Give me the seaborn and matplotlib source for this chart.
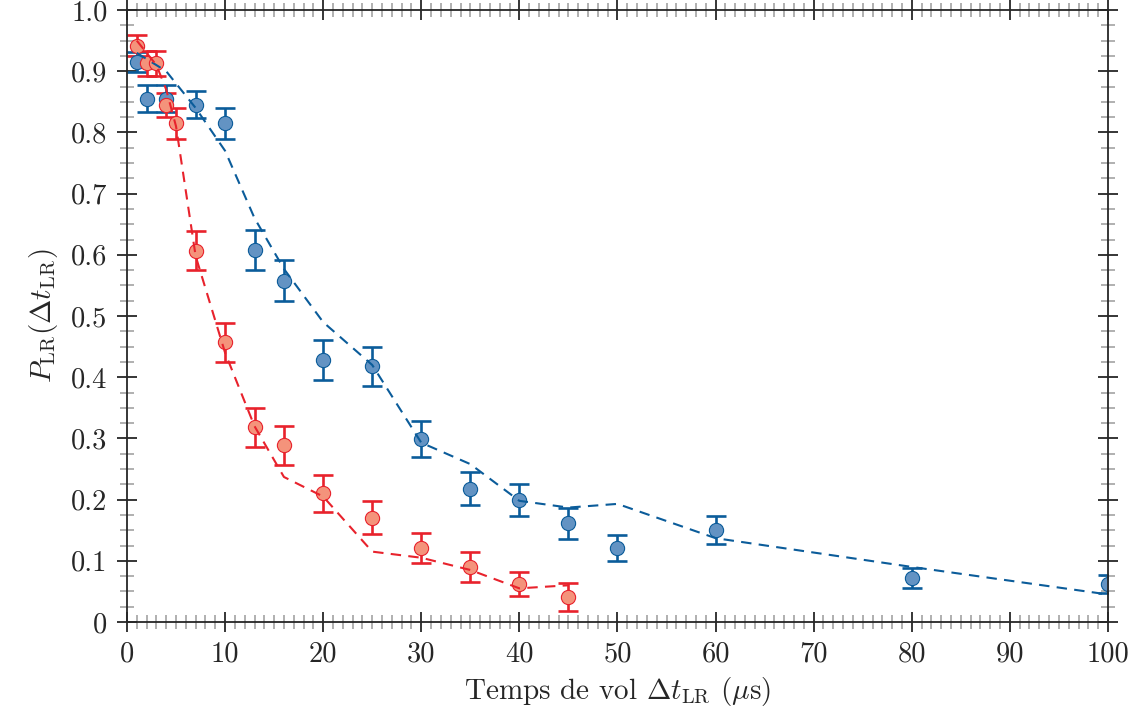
import numpy as np
import pandas as pd
import seaborn as sns
import matplotlib.pyplot as plt
from matplotlib.ticker import MultipleLocator, FixedLocator, FixedFormatter

# mesures (points + barres d'erreur)
x_bleu = [1, 2, 4, 7, 10, 13, 16, 20, 25, 30, 35, 40, 45, 50, 60, 80, 100]
p_bleu = [0.915, 0.855, 0.855, 0.845, 0.815, 0.608, 0.558, 0.428, 0.418, 0.299, 0.218, 0.199, 0.161, 0.121, 0.150, 0.072, 0.062]
err_bleu = [0.017, 0.022, 0.022, 0.022, 0.025, 0.032, 0.033, 0.032, 0.032, 0.029, 0.027, 0.026, 0.025, 0.021, 0.023, 0.016, 0.015]

x_rouge = [1, 2, 3, 4, 5, 7, 10, 13, 16, 20, 25, 30, 35, 40, 45]
p_rouge = [0.942, 0.913, 0.913, 0.845, 0.815, 0.607, 0.457, 0.318, 0.289, 0.210, 0.170, 0.121, 0.090, 0.062, 0.041]
err_rouge = [0.017, 0.02, 0.02, 0.02, 0.025, 0.032, 0.032, 0.032, 0.032, 0.03, 0.027, 0.025, 0.024, 0.02, 0.023]

# modele (courbes en tirets)
mod_bleu = [0.93, 0.92, 0.90, 0.84, 0.77, 0.66, 0.577, 0.49, 0.42, 0.293, 0.258, 0.198, 0.187, 0.193, 0.137, 0.090, 0.045]
mod_rouge = [0.95, 0.93, 0.91, 0.87, 0.81, 0.598, 0.44, 0.32, 0.237, 0.205, 0.115, 0.105, 0.085, 0.055, 0.060]

xticks = [0, 10, 20, 30, 40, 50, 60, 70, 80, 90, 100]
xlabels = ['0', '10', '20', '30', '40', '50', '60', '70', '80', '90', '100']
yticks = [0, 0.1, 0.2, 0.3, 0.4, 0.5, 0.6, 0.7, 0.8, 0.9, 1.0]
ylabels = ['0', '0.1', '0.2', '0.3', '0.4', '0.5', '0.6', '0.7', '0.8', '0.9', '1.0']

BLEU = '#0b5c9a'
BLEU_PT = '#6393c3'
ROUGE = '#e8222c'
ROUGE_PT = '#f4937b'

sns.set_style('ticks')
plt.rcParams['font.family'] = ['cmr10', 'DejaVu Serif']
plt.rcParams['mathtext.fontset'] = 'cm'
plt.rcParams['axes.formatter.use_mathtext'] = True
plt.rcParams['axes.unicode_minus'] = False

df_b = pd.DataFrame({'t': x_bleu, 'p': p_bleu, 'err': err_bleu, 'mod': mod_bleu})
df_r = pd.DataFrame({'t': x_rouge, 'p': p_rouge, 'err': err_rouge, 'mod': mod_rouge})

fig, ax = plt.subplots(figsize=(11.46, 7.17), dpi=100)
fig.subplots_adjust(left=0.1108, right=0.9668, top=0.986, bottom=0.1325)

for df, c, cpt in [(df_b, BLEU, BLEU_PT), (df_r, ROUGE, ROUGE_PT)]:
    ax.errorbar(df['t'], df['p'], yerr=df['err'], fmt='none', ecolor=c,
                elinewidth=1.9, capsize=7, capthick=1.9, zorder=2)
    sns.scatterplot(data=df, x='t', y='p', ax=ax, color=cpt, edgecolor=c,
                    linewidth=0.8, s=105, zorder=3, legend=False)
    sns.lineplot(data=df, x='t', y='mod', ax=ax, color=c, lw=1.5,
                 dashes=False, zorder=4, legend=False)
    ax.lines[-1].set_dashes([5, 3.5])

ax.set_xlim(0, 100)
ax.set_ylim(0, 1.0)
ax.xaxis.set_major_locator(FixedLocator(xticks))
ax.xaxis.set_major_formatter(FixedFormatter(xlabels))
ax.yaxis.set_major_locator(FixedLocator(yticks))
ax.yaxis.set_major_formatter(FixedFormatter(ylabels))
ax.xaxis.set_minor_locator(MultipleLocator(1))
ax.yaxis.set_minor_locator(MultipleLocator(0.025))

ax.tick_params(which='both', direction='inout', top=True, right=True, labelsize=20.5)
ax.tick_params(which='major', length=14, width=1.1, color='black', pad=7)
ax.tick_params(which='minor', length=10, width=1.3, color='#aaaaaa')
for s in ax.spines.values():
    s.set_linewidth(1.3)
    s.set_zorder(5)

ax.set_xlabel(r'Temps de vol $\Delta t_{\mathrm{LR}}$ ($\mu$s)', fontsize=21, labelpad=5)
ax.set_ylabel(r'$P_{\mathrm{LR}}(\Delta t_{\mathrm{LR}})$', fontsize=21, labelpad=8)

fig.savefig('out.png', dpi=100)
